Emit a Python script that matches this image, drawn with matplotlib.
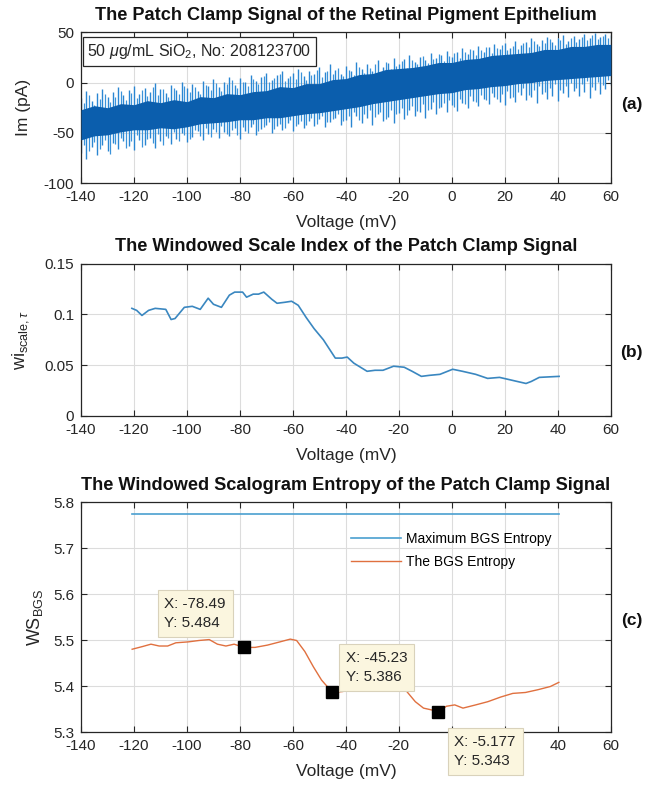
import matplotlib
matplotlib.use("Agg")
import matplotlib.pyplot as plt

plt.rcParams['font.family'] = ['Liberation Sans', 'DejaVu Sans']
plt.rcParams['mathtext.fontset'] = 'custom'
plt.rcParams['mathtext.rm'] = 'Liberation Sans'
plt.rcParams['mathtext.it'] = 'Liberation Sans:italic'
plt.rcParams['axes.unicode_minus'] = False

# ---------------- Panel (a): patch clamp signal (read as spike envelopes) ----
a_x = list(range(-140, 61, 2))
a_spike_top = [-15, -8, -18, -10, -6, -14, -9, -4, -12, -7,
               -3, -11, -5, -9, 0, -6, -10, -2, -7, 1,
               -5, -1, -8, 2, -3, 4, -4, 1, 6, -2,
               5, 1, 8, 2, 6, 10, 3, 8, 12, 5,
               10, 14, 7, 12, 9, 16, 11, 18, 13, 9,
               17, 12, 20, 14, 18, 12, 22, 16, 19, 24,
               18, 23, 27, 20, 25, 22, 29, 24, 27, 31,
               25, 30, 34, 28, 32, 36, 30, 35, 38, 33,
               39, 34, 41, 37, 40, 44, 38, 42, 45, 40,
               44, 47, 41, 46, 43, 48, 44, 49, 45, 48, 47]
a_spike_bottom = [-70, -76, -64, -72, -62, -68, -60, -66, -58, -63,
                  -67, -57, -62, -55, -65, -58, -53, -61, -56, -50,
                  -59, -54, -48, -57, -51, -46, -55, -49, -53, -45,
                  -56, -48, -44, -52, -46, -42, -50, -43, -47, -40,
                  -48, -41, -45, -38, -43, -36, -44, -39, -35, -42,
                  -37, -44, -33, -40, -35, -42, -31, -38, -34, -40,
                  -30, -36, -27, -33, -29, -35, -26, -31, -24, -29,
                  -22, -28, -20, -25, -18, -23, -16, -21, -14, -19,
                  -22, -15, -19, -12, -17, -14, -20, -11, -16, -13,
                  -18, -10, -14, -8, -13, -9, -15, -7, -11, -6, -2]
a_x2 = list(range(-139, 60, 2))
a_spike2_top = [-20, -12, -22, -16, -11, -19, -14, -8, -17, -10,
                -15, -7, -13, -4, -12, -6, -14, -5, -11, -3,
                -9, -4, -11, -2, -7, 0, -8, -1, 3, -5,
                1, -3, 4, -1, 7, 1, 5, 9, 2, 7,
                4, 11, 3, 8, 13, 6, 12, 9, 15, 7,
                13, 8, 16, 10, 15, 18, 11, 20, 14, 17,
                21, 15, 22, 18, 26, 19, 23, 28, 21, 26,
                29, 24, 30, 33, 27, 32, 35, 29, 34, 37,
                32, 36, 33, 39, 35, 41, 36, 39, 43, 37,
                42, 38, 44, 40, 45, 42, 47, 43, 46, 44]
a_spike2_bottom = [-62, -68, -59, -66, -57, -71, -61, -55, -65, -58,
                   -52, -64, -56, -60, -51, -62, -55, -49, -58, -52,
                   -56, -47, -53, -45, -54, -49, -43, -51, -47, -52,
                   -44, -50, -41, -48, -44, -39, -46, -41, -45, -37,
                   -43, -38, -42, -35, -41, -33, -39, -36, -31, -38,
                   -33, -29, -37, -31, -27, -34, -29, -36, -27, -31,
                   -25, -32, -23, -28, -21, -27, -19, -25, -20, -17,
                   -24, -16, -21, -13, -19, -12, -17, -10, -16, -11,
                   -8, -14, -9, -5, -12, -7, -3, -9, -5, -1,
                   -7, -3, 0, -5, -1, 2, -4, 1, -2, 3]
a_core_x = list(range(-140, 61, 5))
a_core_top = [-27, -23, -25, -21, -22, -18, -20, -17, -19, -14,
              -15, -11, -12, -9, -8, -4, -5, -1, -1, 3,
              4, 8, 9, 13, 14, 15, 17, 20, 20, 23,
              24, 27, 28, 29, 30, 33, 33, 36, 36, 38, 38]
a_core_bottom = [-57, -53, -52, -49, -47, -47, -45, -46, -44, -41,
                 -40, -39, -37, -37, -35, -35, -33, -31, -30, -28,
                 -26, -24, -21, -19, -17, -15, -13, -11, -10, -7,
                 -6, -4, -3, -1, 0, 2, 3, 4, 5, 6, 7]

# ---------------- Panel (b): windowed scale index ----------------------------
b_x = [-120.8, -119, -117, -114.5, -112, -108, -106, -104.5, -101, -98,
       -95, -92, -90, -87, -84, -82, -79, -77.5, -75, -73,
       -71, -68, -66, -63, -60.5, -58, -55, -52, -48.5, -46,
       -44, -41.5, -39.5, -37, -32, -29, -26, -22, -18, -15,
       -11.5, -8.5, -4.5, 0.3, 4, 9, 13.5, 18, 23, 28,
       30, 33, 40.5]
b_y = [0.106, 0.104, 0.099, 0.104, 0.106, 0.105, 0.095, 0.096, 0.107, 0.108,
       0.105, 0.116, 0.110, 0.107, 0.119, 0.122, 0.122, 0.117, 0.120, 0.120,
       0.122, 0.115, 0.111, 0.112, 0.113, 0.109, 0.097, 0.086, 0.075, 0.065,
       0.057, 0.057, 0.058, 0.052, 0.044, 0.045, 0.045, 0.049, 0.048, 0.044,
       0.039, 0.040, 0.041, 0.046, 0.044, 0.041, 0.037, 0.038, 0.035, 0.032,
       0.034, 0.038, 0.039]

# ---------------- Panel (c): windowed scalogram entropy ----------------------
c_x = [-120.7, -116.7, -113.6, -110.5, -107.3, -104.2, -99.5, -95.5, -91.6, -88.5,
       -85.3, -82.2, -78.49, -74.3, -69.6, -64.9, -61, -58.6, -55.5, -52.3,
       -49.2, -46, -45.23, -41.3, -38.2, -33.5, -28.8, -24, -20.1, -17,
       -13.8, -10.7, -7.6, -5.177, -2.1, 1.1, 4.2, 9, 13.6, 18.4,
       23, 27.8, 32.5, 37.2, 40.4]
c_y = [5.480, 5.486, 5.491, 5.487, 5.487, 5.494, 5.496, 5.499, 5.501, 5.491,
       5.487, 5.491, 5.484, 5.484, 5.489, 5.496, 5.502, 5.499, 5.475, 5.442,
       5.413, 5.392, 5.386, 5.388, 5.392, 5.395, 5.405, 5.405, 5.403, 5.388,
       5.366, 5.352, 5.348, 5.343, 5.356, 5.359, 5.352, 5.359, 5.366, 5.376,
       5.384, 5.386, 5.392, 5.399, 5.408]
c_max_x = [-120.7, 40.4]
c_max_y = [5.775, 5.775]
tip_x = [-78.49, -45.23, -5.177]
tip_y = [5.484, 5.386, 5.343]
tip_labels = ["X: -78.49\nY: 5.484", "X: -45.23\nY: 5.386", "X: -5.177\nY: 5.343"]
tip_box_pos = [(-108.5, 5.522), (-40.0, 5.405), (1.0, 5.222)]

xticks = list(range(-140, 61, 20))

AXC = '#262626'
GRID = '#dcdcdc'

fig = plt.figure(figsize=(6.54, 7.89), dpi=100)
L, W = 0.1239, 0.810
axa = fig.add_axes([L, 0.768, W, 0.191])
axb = fig.add_axes([L, 0.4728, W, 0.193])
axc = fig.add_axes([L, 0.0722, W, 0.2915])


def style(ax):
    ax.set_xlim(-140, 60)
    ax.set_xticks(xticks)
    ax.grid(True, color=GRID, linewidth=0.8)
    ax.set_axisbelow(True)
    ax.tick_params(direction='in', top=True, right=True, length=4,
                   width=0.8, colors=AXC, labelsize=11, pad=5)
    for s in ax.spines.values():
        s.set_color(AXC)
        s.set_linewidth(0.9)
    ax.set_xlabel('Voltage (mV)', fontsize=12.5, color=AXC, labelpad=8)


TITLE_KW = dict(fontsize=13.1, fontweight='bold', color='#111111', pad=9)

# Panel (a)
style(axa)
axa.vlines(a_x2, a_spike2_bottom, a_spike2_top, color='#3b93da', linewidth=0.9, zorder=2)
axa.vlines(a_x, a_spike_bottom, a_spike_top, color='#2a86d2', linewidth=1.0, zorder=2)
axa.fill_between(a_core_x, a_core_bottom, a_core_top, color='#0b5ead', linewidth=0, zorder=3)
axa.set_ylim(-100, 50)
axa.set_yticks([-100, -50, 0, 50])
axa.set_ylabel('Im (pA)', fontsize=12.5, color=AXC)
axa.yaxis.set_label_coords(-0.094, 0.5)
axa.set_title('The Patch Clamp Signal of the Retinal Pigment Epithelium', **TITLE_KW)
axa.text(0.012, 0.935, r'50 $\mu$g/mL SiO$_2$, No: 208123700', transform=axa.transAxes,
         fontsize=11.5, color=AXC, va='top', ha='left', zorder=5,
         bbox=dict(boxstyle='square,pad=0.3', facecolor='white', edgecolor=AXC, linewidth=0.9))

# Panel (b)
style(axb)
axb.plot(b_x, b_y, color='#3a87c0', linewidth=1.2)
axb.set_ylim(0, 0.15)
axb.set_yticks([0, 0.05, 0.1, 0.15])
axb.set_yticklabels(['0', '0.05', '0.1', '0.15'])
axb.set_ylabel(r'wi$_{\mathrm{scale},\tau}$', fontsize=13, color=AXC)
axb.yaxis.set_label_coords(-0.094, 0.5)
axb.set_title('The Windowed Scale Index of the Patch Clamp Signal', **TITLE_KW)

# Panel (c)
style(axc)
axc.plot(c_max_x, c_max_y, color='#4a9fd0', linewidth=1.2, label='Maximum BGS Entropy')
axc.plot(c_x, c_y, color='#e0703f', linewidth=1.0, label='The BGS Entropy')
axc.plot(tip_x, tip_y, linestyle='none', marker='s', markersize=8,
         color='black', zorder=5)
for (bx, by), txt in zip(tip_box_pos, tip_labels):
    axc.text(bx, by, txt, fontsize=11, color=AXC, ha='left', va='bottom',
             linespacing=1.45, zorder=6, clip_on=False,
             bbox=dict(boxstyle='square,pad=0.45', facecolor='#fbf6df',
                       edgecolor='#d9d2bb', linewidth=0.8))
axc.set_ylim(5.3, 5.8)
axc.set_yticks([5.3, 5.4, 5.5, 5.6, 5.7, 5.8])
axc.set_yticklabels(['5.3', '5.4', '5.5', '5.6', '5.7', '5.8'])
axc.set_ylabel(r'WS$_{\mathrm{BGS}}$', fontsize=13, color=AXC)
axc.yaxis.set_label_coords(-0.068, 0.5)
axc.set_title('The Windowed Scalogram Entropy of the Patch Clamp Signal', **TITLE_KW)
axc.legend(loc='upper left', bbox_to_anchor=(0.50, 0.895), frameon=False,
           fontsize=10, handlelength=3.6, handletextpad=0.3, labelspacing=0.65,
           borderaxespad=0)

for lab, yy in [('(a)', 1 - 104 / 789), ('(b)', 1 - 352 / 789), ('(c)', 1 - 620 / 789)]:
    fig.text(0.966, yy, lab, fontsize=12.5, fontweight='bold', color='#111111',
             ha='center', va='center')

fig.savefig('out.png', dpi=100)
